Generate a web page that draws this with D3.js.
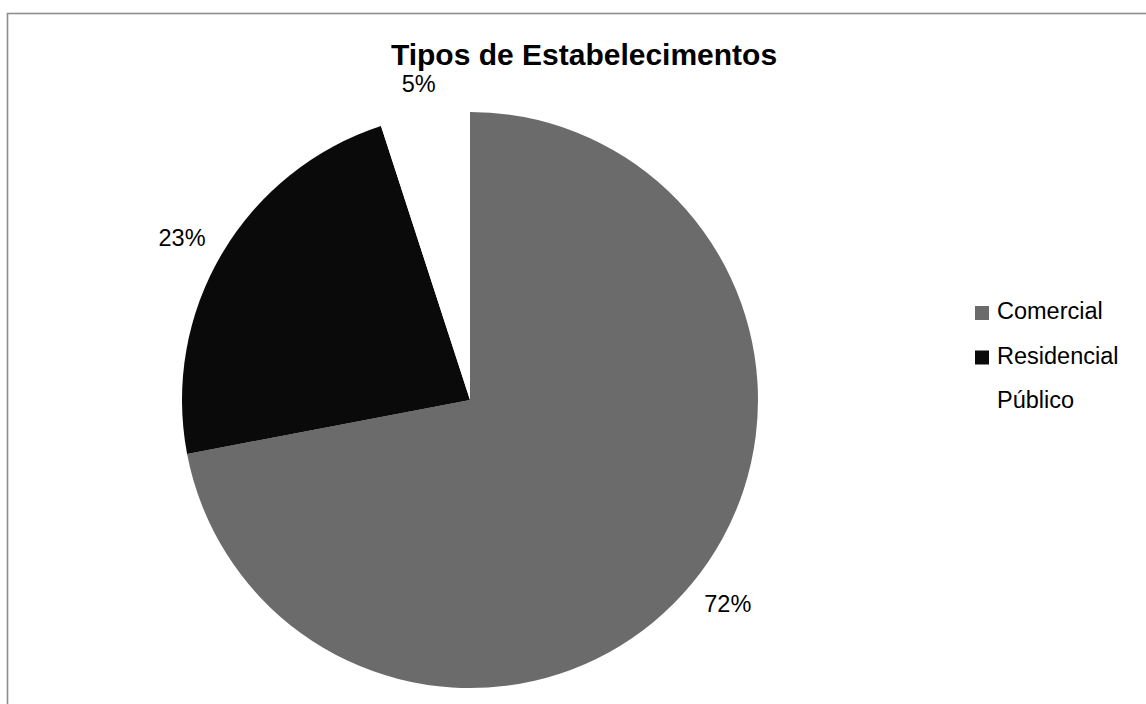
<!DOCTYPE html>
<html>
<head>
<meta charset="utf-8">
<script src="https://cdn.jsdelivr.net/npm/d3@7"></script>
<style>
  html, body { margin: 0; padding: 0; background: #fff; }
  svg { display: block; }
  text { font-family: "Liberation Sans", Arial, sans-serif; fill: #000; }
</style>
</head>
<body>
<svg id="chart" width="1146" height="704"></svg>
<script>
// Shares of establishment types (percent)
const categories = ["Comercial", "Residencial", "Público"];
const values = [72, 23, 5];
const sliceColors = ["#6b6b6b", "#0a0a0a", "#ffffff"];
const chartTitle = "Tipos de Estabelecimentos";

const svg = d3.select("#chart");
const W = 1146, H = 704;

// chart area frame (continues past the right and bottom edges)
svg.append("rect")
  .attr("x", 7.5).attr("y", 13.5)
  .attr("width", W + 20).attr("height", H + 20)
  .attr("fill", "#fff")
  .attr("stroke", "#8e8e8e")
  .attr("stroke-width", 1.6);

// title
svg.append("text")
  .attr("x", 584).attr("y", 65)
  .attr("text-anchor", "middle")
  .style("font-size", "30px")
  .style("font-weight", "bold")
  .text(chartTitle);

const cx = 470, cy = 400, radius = 288;
const color = d3.scaleOrdinal().domain(categories).range(sliceColors);

const pie = d3.pie().sort(null).value(d => d.value);
const data = categories.map((c, i) => ({ name: c, value: values[i] }));
const arcs = pie(data);

const arc = d3.arc().innerRadius(0).outerRadius(radius);

const g = svg.append("g").attr("transform", `translate(${cx},${cy})`);

g.selectAll("path.slice")
  .data(arcs)
  .join("path")
  .attr("class", "slice")
  .attr("d", arc)
  .attr("fill", d => color(d.data.name));

// percentage labels placed just outside the rim; the label box is pushed
// outward by its own half-size so that its inner edge keeps a fixed gap
const total = d3.sum(values);
const gap = 23, halfH = 9;
g.selectAll("text.pct")
  .data(arcs)
  .join("text")
  .attr("class", "pct")
  .attr("text-anchor", "middle")
  .attr("dy", "0.36em")
  .style("font-size", "23.5px")
  .text(d => Math.round(d.data.value / total * 100) + "%")
  .attr("transform", function(d) {
    const a = (d.startAngle + d.endAngle) / 2;
    const ux = Math.sin(a), uy = -Math.cos(a);
    const halfW = this.getComputedTextLength() / 2;
    const x = ux * (radius + gap) + ux * halfW;
    const y = uy * (radius + gap) + uy * halfH;
    return `translate(${x},${y})`;
  });

// legend
const legend = svg.append("g").attr("transform", "translate(975,0)");
const rowY = d3.scalePoint().domain(categories).range([319, 408]);

const rows = legend.selectAll("g.row")
  .data(categories)
  .join("g")
  .attr("class", "row")
  .attr("transform", d => `translate(0,${rowY(d)})`);

rows.append("rect")
  .attr("x", 0).attr("y", -13)
  .attr("width", 14).attr("height", 14)
  .attr("fill", d => color(d));

rows.append("text")
  .attr("x", 22).attr("y", 0)
  .style("font-size", "23.5px")
  .text(d => d);
</script>
</body>
</html>
